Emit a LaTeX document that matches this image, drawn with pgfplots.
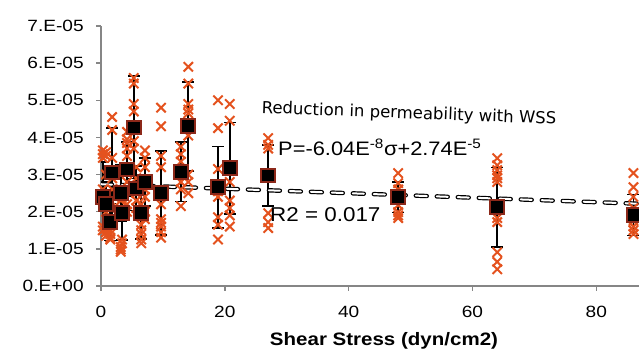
\documentclass[border=0pt]{standalone}
\usepackage{fontspec}
\setmainfont{Liberation Sans}
\newfontfamily\dejavu{DejaVu Sans}
\usepackage{pgfplots}
\usepackage{pgfplotstable}
\pgfplotsset{compat=1.18}
\definecolor{crossc}{RGB}{228,82,30}
\definecolor{sqc}{RGB}{140,40,25}
\definecolor{axc}{RGB}{134,134,134}

% means (units of 1E-05), with error
\pgfplotstableread{
x y e
0.3 2.39 0.95
0.8 2.20 0.60
1.5 1.72 0.50
1.8 3.06 1.19
3.2 2.50 0.75
3.4 1.96 0.72
4.2 3.14 0.73
5.3 4.27 1.38
5.7 2.63 0.60
6.5 1.96 0.70
7.1 2.80 0.64
9.7 2.50 1.13
12.9 3.07 0.80
14.1 4.30 1.20
18.9 2.66 1.10
20.8 3.17 1.23
27.0 2.98 0.82
48.0 2.39 0.41
64.0 2.12 1.07
86.0 1.91 0.55
}\means

% individual samples (units of 1E-05)
\pgfplotstableread{
x y
0.3 3.65
0.3 3.55
0.3 3.45
0.3 2.6
0.3 2.3
0.3 1.6
0.3 1.5
0.8 3.6
0.8 3.5
0.8 3.0
0.8 2.0
0.8 1.55
0.8 1.45
0.8 1.35
1.5 1.25
1.5 1.3
1.5 1.4
1.5 1.5
1.5 1.65
1.5 2.1
1.8 4.55
1.8 4.2
1.8 3.45
1.8 2.9
1.8 2.6
3.2 2.6
3.2 2.3
3.2 1.05
3.2 0.98
3.2 0.92
3.4 2.0
3.4 2.4
3.4 1.15
3.4 1.25
4.2 4.15
4.2 3.95
4.2 3.85
4.2 3.7
4.2 3.5
4.2 2.8
4.2 2.2
4.2 2.0
5.3 5.6
5.3 5.45
5.3 4.9
5.3 4.7
5.3 4.2
5.3 3.9
5.3 3.7
5.7 3.2
5.7 2.9
5.7 2.5
5.7 2.3
5.7 2.1
6.5 2.2
6.5 1.65
6.5 1.5
6.5 1.4
6.5 1.25
6.5 1.15
7.1 3.65
7.1 3.45
7.1 3.2
7.1 2.6
7.1 2.4
7.1 2.0
7.1 1.8
9.7 4.8
9.7 4.3
9.7 3.5
9.7 3.2
9.7 2.2
9.7 1.8
9.7 1.7
9.7 1.6
9.7 1.45
9.7 1.3
12.9 3.75
12.9 3.55
12.9 3.35
12.9 2.8
12.9 2.6
12.9 2.15
14.1 5.9
14.1 5.45
14.1 4.9
14.1 4.75
14.1 4.65
14.1 4.05
14.1 3.0
14.1 2.8
14.1 2.5
18.9 5.0
18.9 4.25
18.9 3.15
18.9 2.55
18.9 2.4
18.9 1.85
18.9 1.65
18.9 1.25
20.8 4.9
20.8 4.45
20.8 2.8
20.8 2.3
20.8 2.1
20.8 1.9
20.8 1.6
27.0 3.98
27.0 3.8
27.0 3.7
27.0 1.96
27.0 1.72
27.0 1.56
48.0 3.04
48.0 2.77
48.0 2.6
48.0 2.18
48.0 1.99
48.0 1.9
48.0 1.83
64.0 3.44
64.0 3.25
64.0 3.12
64.0 2.98
64.0 2.9
64.0 2.8
64.0 1.83
64.0 1.72
64.0 0.91
64.0 0.65
64.0 0.45
86.0 3.04
86.0 2.66
86.0 2.4
86.0 2.1
86.0 1.9
86.0 1.75
86.0 1.6
86.0 1.5
86.0 1.4
}\samples

\begin{document}
\begin{tikzpicture}
\useasboundingbox (0,0) rectangle (639pt,350pt);
\begin{axis}[
  at={(101pt,64pt)}, anchor=south west,
  scale only axis, width=538pt, height=260pt,
  xmin=0, xmax=86.9, ymin=0, ymax=7,
  axis x line*=bottom, axis y line*=left,
  axis line style={draw=axc, line width=1.6pt},
  tick style={draw=axc, line width=1.4pt},
  major tick length=5pt, tick align=outside,
  xtick={0,20,40,60,80},
  ytick={0,1,2,3,4,5,6,7},
  yticklabels={0.E+00,1.E-05,2.E-05,3.E-05,4.E-05,5.E-05,6.E-05,7.E-05},
  /pgf/number format/assume math mode=true,
  ticklabel style={font=\fontsize{16.3}{16}\selectfont, xscale=1.17},
  yticklabel style={xshift=-7pt},
  xticklabel style={yshift=-12pt},
  clip=true,
]
\addplot[only marks, mark=none,
  error bars/.cd, y dir=both, y explicit,
  error bar style={black, line width=1.6pt},
  error mark options={black, line width=1.6pt, mark size=6pt, rotate=90}]
  table[x=x, y=y, y error=e] {\means};
\addplot[only marks, mark=x, mark size=6.6pt,
  mark options={draw=crossc, line width=2pt}]
  table[x=x, y=y] {\samples};
\addplot[black, line width=4.4pt, line cap=round, dash pattern=on 11pt off 10pt]
  coordinates {(0,2.74) (86.9,2.215)};
\addplot[white, line width=2pt, line cap=round, dash pattern=on 11pt off 10pt]
  coordinates {(0,2.74) (86.9,2.215)};
\addplot[only marks, mark=square*, mark size=6.8pt,
  mark options={fill=black, draw=sqc, line width=2pt}]
  table[x=x, y=y] {\means};
\end{axis}
\node[font=\dejavu\fontsize{16.5}{17}\selectfont, rotate=-2.1, inner sep=0pt]
  at (409pt,236pt) {Reduction in permeability with WSS};
\node[font=\fontsize{19.5}{20}\selectfont, xscale=1.12, anchor=base west, inner sep=0pt]
  at (278pt,194pt) {P=-6.04E\textsuperscript{-8}σ+2.74E\textsuperscript{-5}};
\node[font=\fontsize{20}{20}\selectfont, xscale=1.12, anchor=base west, inner sep=0pt]
  at (270pt,128pt) {R2 = 0.017};
\node[font=\bfseries\fontsize{18}{18}\selectfont, xscale=1.14, anchor=base, inner sep=0pt]
  at (384pt,4pt) {Shear Stress (dyn/cm2)};
\end{tikzpicture}
\end{document}
